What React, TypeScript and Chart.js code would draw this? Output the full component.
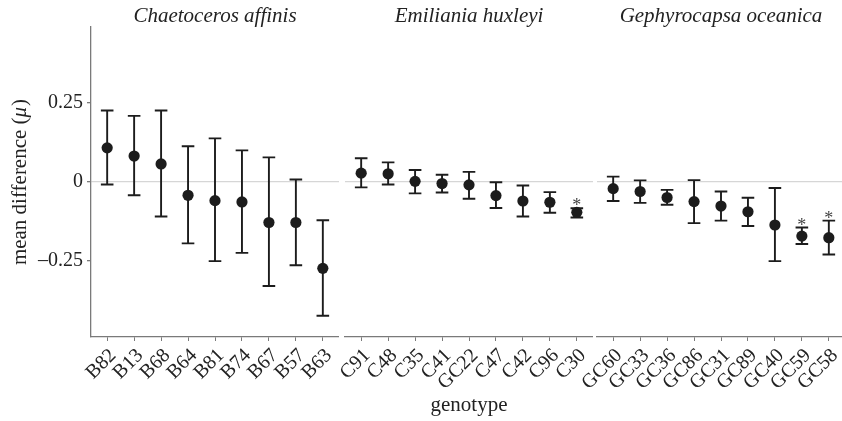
import React, { useEffect, useRef } from "react";
import { Chart, registerables } from "chart.js";

Chart.register(...registerables);

// ---- data ----
const panelTitles = ["Chaetoceros affinis", "Emiliania huxleyi", "Gephyrocapsa oceanica"];

const caNames = ["B82", "B13", "B68", "B64", "B81", "B74", "B67", "B57", "B63"];
const caMean = [0.108, 0.082, 0.057, -0.042, -0.059, -0.063, -0.128, -0.128, -0.273];
const caLower = [-0.008, -0.042, -0.109, -0.194, -0.25, -0.224, -0.329, -0.263, -0.423];
const caUpper = [0.226, 0.209, 0.226, 0.113, 0.138, 0.1, 0.078, 0.008, -0.121];
const caSig = [false, false, false, false, false, false, false, false, false];

const ehNames = ["C91", "C48", "C35", "C41", "GC22", "C47", "C42", "C96", "C30"];
const ehMean = [0.028, 0.026, 0.002, -0.005, -0.009, -0.043, -0.06, -0.064, -0.096];
const ehLower = [-0.017, -0.008, -0.036, -0.033, -0.053, -0.082, -0.109, -0.097, -0.112];
const ehUpper = [0.075, 0.062, 0.038, 0.023, 0.032, -0.001, -0.011, -0.032, -0.083];
const ehSig = [false, false, false, false, false, false, false, false, true];

const goNames = ["GC60", "GC33", "GC36", "GC86", "GC31", "GC89", "GC40", "GC59", "GC58"];
const goMean = [-0.021, -0.03, -0.049, -0.062, -0.076, -0.094, -0.136, -0.171, -0.176];
const goLower = [-0.06, -0.066, -0.072, -0.13, -0.122, -0.139, -0.25, -0.196, -0.229];
const goUpper = [0.017, 0.005, -0.025, 0.006, -0.03, -0.05, -0.019, -0.144, -0.122];
const goSig = [false, false, false, false, false, false, false, true, true];

const yTickValues = [-0.25, 0, 0.25];
const yTickLabels = ["–0.25", "0", "0.25"];
const yMin = -0.49;
const yMax = 0.49;
const xAxisTitle = "genotype";
const yAxisTitleMain = "mean difference (";
const yAxisTitleSym = "μ";
const yAxisTitleEnd = ")";

// ---- style ----
const FONT = "'Liberation Serif', 'Times New Roman', serif";
const TEXT = "#222222";
const AXIS = "#7a7a7a";
const ZERO = "#d6d6d6";
const MARK = "#1c1c1c";

type Panel = {
  title: string;
  names: string[];
  mean: number[];
  lower: number[];
  upper: number[];
  sig: boolean[];
};

const panels: Panel[] = [
  { title: panelTitles[0], names: caNames, mean: caMean, lower: caLower, upper: caUpper, sig: caSig },
  { title: panelTitles[1], names: ehNames, mean: ehMean, lower: ehLower, upper: ehUpper, sig: ehSig },
  { title: panelTitles[2], names: goNames, mean: goMean, lower: goLower, upper: goUpper, sig: goSig },
];

// canvas geometry (left, width, layout padding left) for each facet
const geom = [
  { left: 0, width: 339, padLeft: 0 },
  { left: 305, width: 288, padLeft: 40 },
  { left: 557, width: 288, padLeft: 40 },
];
const H = 421;

function makeChart(canvas: HTMLCanvasElement, p: Panel, idx: number) {
  const first = idx === 0;
  const errPlugin = {
    id: "errbars" + idx,
    beforeDatasetsDraw(chart: any) {
      const ctx = chart.ctx;
      const xs = chart.scales.x;
      const ys = chart.scales.y;
      ctx.save();
      ctx.strokeStyle = MARK;
      ctx.lineWidth = 1.9;
      const cap = 6.3;
      p.lower.forEach((lo, i) => {
        const x = xs.getPixelForValue(i);
        const y1 = ys.getPixelForValue(lo);
        const y2 = ys.getPixelForValue(p.upper[i]);
        ctx.beginPath();
        ctx.moveTo(x, y1);
        ctx.lineTo(x, y2);
        ctx.moveTo(x - cap, y1);
        ctx.lineTo(x + cap, y1);
        ctx.moveTo(x - cap, y2);
        ctx.lineTo(x + cap, y2);
        ctx.stroke();
      });
      ctx.restore();
    },
    afterDatasetsDraw(chart: any) {
      const ctx = chart.ctx;
      const xs = chart.scales.x;
      const ys = chart.scales.y;
      ctx.save();
      ctx.fillStyle = "#444444";
      ctx.font = `18px ${FONT}`;
      ctx.textAlign = "center";
      ctx.textBaseline = "alphabetic";
      p.sig.forEach((s, i) => {
        if (!s) return;
        const x = xs.getPixelForValue(i);
        const y = ys.getPixelForValue(p.upper[i]);
        ctx.fillText("*", x, y + 3);
      });
      ctx.restore();
    },
    afterDraw(chart: any) {
      if (!first) return;
      const ctx = chart.ctx;
      const ys = chart.scales.y;
      const cy = (ys.top + ys.bottom) / 2;
      ctx.save();
      ctx.fillStyle = TEXT;
      ctx.textBaseline = "middle";
      ctx.textAlign = "left";
      const fUp = `21px ${FONT}`;
      const fIt = `italic 21px ${FONT}`;
      ctx.font = fUp;
      const w1 = ctx.measureText(yAxisTitleMain).width;
      const w3 = ctx.measureText(yAxisTitleEnd).width;
      ctx.font = fIt;
      const w2 = ctx.measureText(yAxisTitleSym).width;
      const total = w1 + w2 + w3 + 1;
      ctx.translate(20, cy);
      ctx.rotate(-Math.PI / 2);
      let x = -total / 2;
      ctx.font = fUp;
      ctx.fillText(yAxisTitleMain, x, 0);
      x += w1;
      ctx.font = fIt;
      ctx.fillText(yAxisTitleSym, x, 0);
      x += w2 + 1;
      ctx.font = fUp;
      ctx.fillText(yAxisTitleEnd, x, 0);
      ctx.restore();
    },
  };

  return new Chart(canvas, {
    type: "scatter",
    data: {
      datasets: [
        {
          data: p.mean.map((v, i) => ({ x: i, y: v })),
          backgroundColor: MARK,
          borderColor: MARK,
          pointRadius: 5.6,
          pointHoverRadius: 5.6,
          borderWidth: 0,
        },
      ],
    },
    options: {
      responsive: false,
      animation: false,
      events: [],
      layout: { autoPadding: false, padding: { left: geom[idx].padLeft, right: 0, top: 0, bottom: 0 } },
      plugins: {
        legend: { display: false },
        tooltip: { enabled: false },
        title: {
          display: true,
          text: p.title,
          fullSize: false,
          color: TEXT,
          font: { family: FONT, size: 21, style: "italic", weight: "normal", lineHeight: 1 },
          padding: { top: 6, bottom: 0 },
        },
      },
      scales: {
        x: {
          type: "linear",
          min: -0.6,
          max: p.names.length - 1 + 0.6,
          afterBuildTicks: (scale: any) => {
            scale.ticks = p.names.map((_, i) => ({ value: i }));
          },
          afterFit: (scale: any) => {
            scale.height = 84;
            scale.paddingLeft = 0;
            scale.paddingRight = 0;
          },
          ticks: {
            autoSkip: false,
            minRotation: 45,
            maxRotation: 45,
            padding: 3,
            labelOffset: 6,
            color: TEXT,
            font: { family: FONT, size: 20 },
            callback: (v: any) => p.names[Number(v)] ?? "",
          },
          grid: {
            display: true,
            drawOnChartArea: false,
            drawTicks: true,
            tickLength: 4,
            tickColor: AXIS,
            color: AXIS,
          },
          border: { display: true, color: AXIS, width: 1.3 },
          title: {
            display: idx === 1,
            text: xAxisTitle,
            color: TEXT,
            font: { family: FONT, size: 21, lineHeight: 1 },
            padding: { top: 0, bottom: 5 },
          },
        },
        y: {
          type: "linear",
          min: yMin,
          max: yMax,
          afterBuildTicks: (scale: any) => {
            scale.ticks = yTickValues.map((v) => ({ value: v }));
          },
          afterFit: (scale: any) => {
            scale.width = first ? 91 : 0;
            scale.paddingTop = 0;
            scale.paddingBottom = 0;
          },
          ticks: {
            display: first,
            padding: 4,
            color: TEXT,
            font: { family: FONT, size: 20 },
            callback: (v: any) => {
              const k = yTickValues.indexOf(Number(v));
              return k >= 0 ? yTickLabels[k] : "";
            },
          },
          grid: {
            display: true,
            drawOnChartArea: true,
            drawTicks: first,
            tickLength: 4,
            tickColor: AXIS,
            lineWidth: 1.3,
            color: (c: any) => (c.tick && c.tick.value === 0 ? ZERO : "rgba(0,0,0,0)"),
          },
          border: { display: first, color: AXIS, width: 1.3 },
        },
      },
    },
    plugins: [errPlugin],
  } as any);
}

export default function App() {
  const r0 = useRef<HTMLCanvasElement>(null);
  const r1 = useRef<HTMLCanvasElement>(null);
  const r2 = useRef<HTMLCanvasElement>(null);

  useEffect(() => {
    const refs = [r0, r1, r2];
    const charts = refs.map((r, i) => makeChart(r.current as HTMLCanvasElement, panels[i], i));
    return () => charts.forEach((c) => c.destroy());
  }, []);

  const refs = [r0, r1, r2];
  return (
    <div
      style={{
        position: "fixed",
        left: 0,
        top: 0,
        width: 842,
        height: H,
        overflow: "hidden",
        background: "#ffffff",
      }}
    >
      {geom.map((g, i) => (
        <canvas
          key={i}
          ref={refs[i]}
          width={g.width}
          height={H}
          style={{ position: "absolute", left: g.left, top: 0, width: g.width, height: H }}
        />
      ))}
    </div>
  );
}
